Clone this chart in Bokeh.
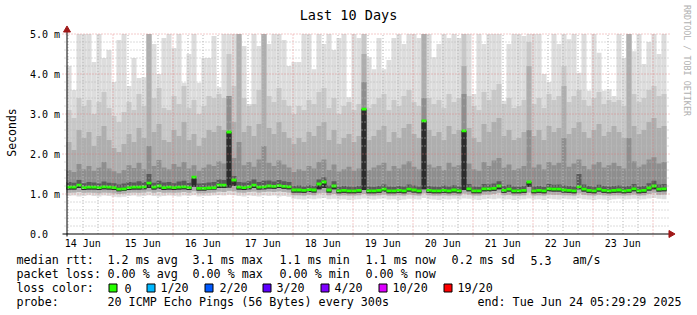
import numpy as np
from bokeh.plotting import figure
from bokeh.models import Range1d, Label
from bokeh.embed import file_html
from bokeh.resources import INLINE

# ---------------- data ----------------
title_text = "Last 10 Days"
day_labels = ["14 Jun", "15 Jun", "16 Jun", "17 Jun", "18 Jun",
              "19 Jun", "20 Jun", "21 Jun", "22 Jun", "23 Jun"]
y_tick_values = [0, 1, 2, 3, 4, 5]
y_tick_labels = ["0.0", "1.0 m", "2.0 m", "3.0 m", "4.0 m", "5.0 m"]
start_hour = 5.5      # 14 Jun 05:29 (hours since 14 Jun 00:00)
bucket_hours = 2.0

# median round-trip time per bucket (ms)
rtt_median = [
    1.17, 1.17, 1.22, 1.16, 1.17, 1.17, 1.16, 1.18, 1.17, 1.16,
    1.12, 1.13, 1.16, 1.17, 1.17, 1.18, 1.27, 1.17, 1.20, 1.16,
    1.17, 1.16, 1.17, 1.18, 1.16, 1.42, 1.14, 1.14, 1.15, 1.16,
    1.22, 1.22, 2.55, 1.35, 1.17, 1.16, 1.18, 1.22, 1.17, 1.18,
    1.20, 1.19, 1.21, 1.19, 1.18, 1.10, 1.10, 1.09, 1.11, 1.10,
    1.25, 1.30, 1.10, 1.20, 1.08, 1.09, 1.08, 1.08, 1.09, 3.12,
    1.08, 1.08, 1.09, 1.12, 1.08, 1.08, 1.09, 1.08, 1.12, 1.10,
    1.08, 2.83, 1.09, 1.08, 1.08, 1.09, 1.08, 1.10, 1.08, 2.58,
    1.13, 1.08, 1.08, 1.13, 1.13, 1.14, 1.20, 1.09, 1.12, 1.08,
    1.08, 1.09, 1.30, 1.08, 1.09, 1.08, 1.13, 1.12, 1.12, 1.10,
    1.09, 1.08, 1.18, 1.12, 1.09, 1.08, 1.12, 1.09, 1.08, 1.09,
    1.10, 1.08, 1.09, 1.13, 1.08, 1.09, 1.15, 1.20, 1.12, 1.13,
]
# highest ping per bucket (clipped at the 5 ms top of the graph)
rtt_max = [
    4.20, 3.60, 5.00, 5.00, 5.00, 4.30, 5.00, 4.40, 4.60, 3.80,
    4.85, 5.00, 3.70, 4.40, 3.90, 3.92, 5.00, 4.75, 4.00, 4.90,
    5.00, 4.65, 5.00, 3.78, 4.50, 5.00, 3.78, 4.40, 4.40, 4.95,
    3.67, 5.00, 5.00, 5.00, 4.90, 4.70, 3.25, 5.00, 4.70, 5.00,
    4.75, 5.00, 5.00, 4.85, 4.20, 4.30, 4.30, 5.00, 5.00, 4.12,
    5.00, 4.75, 5.00, 4.60, 4.90, 5.00, 3.42, 5.00, 4.90, 5.00,
    4.42, 4.12, 4.90, 4.12, 4.35, 4.90, 5.00, 4.75, 5.00, 5.00,
    4.90, 5.00, 5.00, 4.42, 4.75, 5.00, 4.90, 5.00, 4.90, 5.00,
    5.00, 3.50, 5.00, 4.75, 5.00, 5.00, 5.00, 3.33, 4.75, 5.00,
    5.00, 4.95, 5.00, 5.00, 5.00, 4.00, 3.80, 5.00, 4.75, 5.00,
    4.87, 5.00, 4.03, 5.00, 3.58, 5.00, 4.53, 3.58, 3.62, 3.45,
    5.00, 4.40, 5.00, 4.57, 5.00, 4.25, 4.80, 5.00, 4.50, 5.00,
]
rtt_hi2 = [
    3.10, 2.90, 3.40, 3.20, 3.35, 3.00, 3.30, 3.55, 3.15, 2.95,
    2.80, 3.05, 3.30, 3.10, 3.50, 3.20, 5.00, 3.40, 3.65, 3.15,
    3.10, 3.45, 3.25, 3.70, 3.15, 3.35, 3.00, 3.20, 3.45, 3.40,
    3.50, 3.40, 4.50, 3.70, 5.00, 3.40, 3.20, 3.25, 3.60, 5.00,
    3.45, 3.30, 3.65, 3.35, 3.20, 3.00, 3.20, 3.10, 3.35, 3.25,
    3.55, 3.65, 3.15, 3.40, 3.00, 3.20, 3.30, 3.10, 3.25, 5.00,
    3.15, 3.25, 3.40, 3.50, 3.10, 3.35, 3.20, 3.45, 3.60, 3.30,
    3.20, 5.00, 3.40, 3.25, 3.35, 3.15, 3.50, 3.30, 3.40, 5.00,
    3.45, 3.20, 3.10, 3.55, 3.35, 3.60, 3.75, 3.25, 3.40, 3.15,
    3.20, 3.35, 4.80, 3.25, 3.40, 3.15, 3.50, 3.35, 3.45, 4.20,
    3.30, 3.45, 3.60, 3.35, 3.20, 3.40, 3.55, 3.25, 3.35, 3.30,
    3.35, 3.20, 5.00, 3.50, 3.30, 3.40, 3.60, 3.70, 3.45, 3.50,
]
rtt_hi3 = [
    2.30, 2.10, 2.60, 2.40, 2.55, 2.20, 2.45, 2.70, 2.35, 2.15,
    2.05, 2.25, 2.50, 2.30, 2.65, 2.40, 5.00, 2.55, 2.75, 2.35,
    2.30, 2.60, 2.45, 2.80, 2.35, 2.50, 2.20, 2.40, 2.60, 2.55,
    2.70, 2.60, 3.45, 2.80, 5.00, 2.55, 2.70, 2.45, 2.75, 5.00,
    2.65, 2.50, 2.80, 2.55, 2.40, 2.25, 2.40, 2.30, 2.55, 2.45,
    2.70, 2.80, 2.35, 2.60, 2.25, 2.40, 2.50, 2.30, 2.45, 4.50,
    2.35, 2.45, 2.60, 2.70, 2.30, 2.55, 2.40, 2.65, 2.75, 2.50,
    2.40, 5.00, 2.60, 2.45, 2.55, 2.35, 2.70, 2.50, 2.60, 4.20,
    2.65, 2.40, 2.30, 2.75, 2.55, 2.80, 2.90, 2.45, 2.60, 2.35,
    2.40, 2.55, 4.20, 2.45, 2.60, 2.35, 2.70, 2.55, 2.65, 3.70,
    2.50, 2.65, 2.80, 2.55, 2.40, 2.60, 2.75, 2.45, 2.55, 2.70,
    2.55, 2.40, 5.00, 2.70, 2.50, 2.60, 2.80, 2.90, 2.65, 2.70,
]
rtt_hi4 = [
    1.60, 1.55, 1.75, 1.62, 1.70, 1.58, 1.66, 1.80, 1.64, 1.57,
    1.52, 1.60, 1.72, 1.65, 1.78, 1.62, 2.20, 1.70, 1.85, 1.66,
    1.62, 1.75, 1.68, 1.80, 1.64, 1.72, 1.58, 1.66, 1.74, 1.70,
    1.82, 1.76, 3.45, 1.90, 2.30, 1.72, 1.80, 1.68, 1.86, 2.20,
    1.78, 1.70, 1.84, 1.74, 1.66, 1.55, 1.62, 1.58, 1.70, 1.64,
    1.80, 1.86, 1.60, 1.74, 1.56, 1.62, 1.68, 1.58, 1.64, 3.80,
    1.60, 1.66, 1.72, 1.78, 1.58, 1.70, 1.64, 1.74, 1.82, 1.68,
    1.62, 3.40, 1.74, 1.66, 1.70, 1.60, 1.78, 1.68, 1.72, 3.50,
    1.76, 1.62, 1.58, 1.80, 1.70, 1.84, 1.90, 1.66, 1.74, 1.60,
    1.64, 1.70, 2.60, 1.66, 1.74, 1.62, 1.80, 1.72, 1.78, 2.40,
    1.68, 1.76, 1.86, 1.70, 1.62, 1.74, 1.80, 1.66, 1.72, 1.78,
    1.70, 1.64, 2.40, 1.82, 1.68, 1.74, 1.86, 1.92, 1.76, 1.80,
]
rtt_hi5 = [
    1.30, 1.28, 1.35, 1.27, 1.30, 1.29, 1.26, 1.31, 1.28, 1.27,
    1.24, 1.26, 1.30, 1.29, 1.32, 1.30, 1.50, 1.28, 1.33, 1.29,
    1.30, 1.27, 1.31, 1.33, 1.28, 1.42, 1.26, 1.27, 1.29, 1.30,
    1.36, 1.35, 2.55, 1.45, 1.30, 1.29, 1.32, 1.36, 1.30, 1.33,
    1.34, 1.31, 1.35, 1.32, 1.30, 1.20, 1.21, 1.19, 1.22, 1.20,
    1.36, 1.42, 1.21, 1.32, 1.18, 1.20, 1.19, 1.18, 1.20, 3.12,
    1.19, 1.18, 1.20, 1.24, 1.19, 1.18, 1.20, 1.19, 1.24, 1.21,
    1.19, 2.83, 1.20, 1.19, 1.18, 1.21, 1.19, 1.22, 1.19, 2.58,
    1.25, 1.19, 1.18, 1.25, 1.24, 1.26, 1.32, 1.20, 1.23, 1.19,
    1.18, 1.20, 1.30, 1.19, 1.20, 1.18, 1.25, 1.23, 1.24, 1.21,
    1.20, 1.19, 1.50, 1.24, 1.20, 1.18, 1.23, 1.20, 1.19, 1.20,
    1.21, 1.19, 1.20, 1.25, 1.19, 1.20, 1.27, 1.33, 1.24, 1.25,
]
# lowest ping and lower quantiles per bucket (ms)
rtt_min = [
    0.95, 0.96, 0.94, 0.95, 0.97, 0.95, 0.94, 0.96, 0.95, 0.93,
    0.92, 0.93, 0.95, 0.96, 0.94, 0.95, 0.97, 0.95, 0.94, 0.95,
    0.96, 0.95, 0.94, 0.96, 0.95, 0.97, 0.94, 0.95, 0.95, 0.96,
    0.97, 0.96, 0.98, 0.97, 0.95, 0.94, 0.96, 0.95, 0.94, 0.96,
    0.95, 0.96, 0.94, 0.95, 0.93, 0.88, 0.87, 0.86, 0.88, 0.87,
    0.89, 0.90, 0.87, 0.88, 0.86, 0.87, 0.85, 0.86, 0.87, 0.89,
    0.87, 0.86, 0.88, 0.89, 0.86, 0.87, 0.85, 0.86, 0.88, 0.87,
    0.86, 0.90, 0.87, 0.86, 0.85, 0.87, 0.86, 0.88, 0.86, 0.89,
    0.88, 0.86, 0.85, 0.87, 0.88, 0.87, 0.89, 0.86, 0.87, 0.85,
    0.86, 0.87, 0.89, 0.86, 0.87, 0.85, 0.88, 0.87, 0.86, 0.88,
    0.87, 0.86, 0.89, 0.87, 0.86, 0.85, 0.87, 0.86, 0.85, 0.87,
    0.88, 0.86, 0.87, 0.88, 0.86, 0.87, 0.89, 0.90, 0.88, 0.87,
]
rtt_lo2 = [
    1.03, 1.04, 1.05, 1.03, 1.04, 1.03, 1.02, 1.04, 1.03, 1.02,
    1.00, 1.01, 1.03, 1.04, 1.03, 1.04, 1.06, 1.03, 1.05, 1.03,
    1.04, 1.03, 1.04, 1.05, 1.03, 1.07, 1.02, 1.02, 1.03, 1.04,
    1.06, 1.05, 1.08, 1.07, 1.04, 1.03, 1.05, 1.06, 1.04, 1.05,
    1.06, 1.05, 1.07, 1.05, 1.04, 0.97, 0.97, 0.96, 0.98, 0.97,
    1.02, 1.03, 0.97, 1.00, 0.96, 0.97, 0.96, 0.96, 0.97, 1.00,
    0.96, 0.96, 0.97, 0.99, 0.96, 0.96, 0.97, 0.96, 0.99, 0.97,
    0.96, 1.02, 0.97, 0.96, 0.96, 0.97, 0.96, 0.97, 0.96, 1.01,
    0.99, 0.96, 0.96, 0.99, 0.99, 1.00, 1.03, 0.97, 0.98, 0.96,
    0.96, 0.97, 1.04, 0.96, 0.97, 0.96, 0.99, 0.98, 0.98, 0.97,
    0.97, 0.96, 1.02, 0.98, 0.97, 0.96, 0.98, 0.97, 0.96, 0.97,
    0.97, 0.96, 0.97, 0.99, 0.96, 0.97, 1.00, 1.03, 0.98, 0.99,
]
rtt_lo3 = [
    1.11, 1.11, 1.15, 1.10, 1.11, 1.11, 1.10, 1.12, 1.11, 1.10,
    1.07, 1.08, 1.10, 1.11, 1.11, 1.12, 1.15, 1.11, 1.13, 1.10,
    1.11, 1.10, 1.11, 1.12, 1.10, 1.18, 1.09, 1.09, 1.10, 1.11,
    1.15, 1.15, 1.16, 1.20, 1.11, 1.10, 1.12, 1.15, 1.11, 1.12,
    1.14, 1.13, 1.15, 1.13, 1.12, 1.04, 1.04, 1.03, 1.05, 1.04,
    1.12, 1.15, 1.04, 1.12, 1.02, 1.03, 1.02, 1.02, 1.03, 1.10,
    1.02, 1.02, 1.03, 1.06, 1.02, 1.02, 1.03, 1.02, 1.06, 1.04,
    1.02, 1.12, 1.03, 1.02, 1.02, 1.03, 1.02, 1.04, 1.02, 1.10,
    1.07, 1.02, 1.02, 1.07, 1.07, 1.08, 1.12, 1.03, 1.06, 1.02,
    1.02, 1.03, 1.18, 1.02, 1.03, 1.02, 1.07, 1.06, 1.06, 1.04,
    1.03, 1.02, 1.12, 1.06, 1.03, 1.02, 1.06, 1.03, 1.02, 1.03,
    1.04, 1.02, 1.03, 1.07, 1.02, 1.03, 1.09, 1.12, 1.06, 1.07,
]

stats_rtt = ["1.2 ms avg", "3.1 ms max", "1.1 ms min", "1.1 ms now", "0.2 ms sd", "5.3", "am/s"]
stats_loss = ["0.00 % avg", "0.00 % max", "0.00 % min", "0.00 % now"]
loss_labels = ["0", "1/20", "2/20", "3/20", "4/20", "10/20", "19/20"]
loss_colors = ["#26ff00", "#00b8ff", "#0059ff", "#5e00ff", "#7e00ff", "#dd00ff", "#ff0000"]
probe_text = "20 ICMP Echo Pings (56 Bytes) every 300s"
end_text = "end: Tue Jun 24 05:29:29 2025"

# ---------------- layout helpers ----------------
W, H = 697, 315
PX0, PX_PER_H = 66.0, 2.5     # x pixel of start_hour, pixels per hour
PY0, PY_PER_MS = 233.5, 40.0  # y pixel of 0 ms, pixels per ms


def hx(px):
    return start_hour + (px - PX0) / PX_PER_H


def vy(py):
    return (PY0 - py) / PY_PER_MS


def px_of(h):
    return PX0 + (h - start_hour) * PX_PER_H


p = figure(width=W, height=H, x_range=Range1d(hx(0), hx(W)),
           y_range=Range1d(vy(H), vy(0)), output_backend="svg",
           toolbar_location=None, x_axis_type=None, y_axis_type=None,
           min_border=0)
p.outline_line_color = None
p.background_fill_color = "white"
p.border_fill_color = "white"

MONO = "DejaVu Sans Mono"

# ---------------- smoke ----------------
n = len(rtt_median)
left = start_hour + bucket_hours * np.arange(n)
right = left + bucket_hours
bands = [
    (rtt_min, rtt_max, "#dddddd"),
    (rtt_lo2, rtt_hi2, "#c8c8c8"),
    (rtt_lo2, rtt_hi3, "#aeaeae"),
    (rtt_lo3, rtt_hi4, "#8e8e8e"),
    (rtt_lo3, rtt_hi5, "#5a5a5a"),
    (rtt_lo3, rtt_median, "#2c2c2c"),
]
for b, t, c in bands:
    p.quad(left=left, right=right, bottom=b, top=t,
           fill_color=c, line_color=None)

# median bars
half = 1.4 / PY_PER_MS
med = np.array(rtt_median)
p.quad(left=left, right=right, bottom=med - half, top=med + half,
       fill_color=loss_colors[0], line_color=None)

# ---------------- grid ----------------
x_lo_minor, x_lo_major, x_hi = hx(64), hx(62), hx(669)
minor_v = [k * 0.2 for k in range(1, 26) if k % 5 != 0]
major_v = [k * 1.0 for k in range(1, 6)]
p.segment(x0=[x_lo_minor] * len(minor_v), x1=[x_hi] * len(minor_v),
          y0=minor_v, y1=minor_v, line_color="#b8b8b8", line_width=1,
          line_dash="1 2")
p.segment(x0=[x_lo_major] * len(major_v), x1=[x_hi] * len(major_v),
          y0=major_v, y1=major_v, line_color="#e07070", line_alpha=0.75,
          line_width=1, line_dash="1 2")

end_h = start_hour + bucket_hours * n
minor_h, major_h = [], []
for hh in range(6, int(end_h) + 1, 6):
    snapped = hx(np.floor(px_of(hh)) + 0.5)
    (major_h if hh % 24 == 0 else minor_h).append(snapped)
p.segment(x0=minor_h, x1=minor_h, y0=[0] * len(minor_h), y1=[5] * len(minor_h),
          line_color="#b8b8b8", line_width=1, line_dash="1 2")
p.segment(x0=major_h, x1=major_h, y0=[vy(236)] * len(major_h), y1=[5] * len(major_h),
          line_color="#e07070", line_alpha=0.75, line_width=1, line_dash="1 2")

# ---------------- axes ----------------
ax_x = hx(66.5)
p.segment(x0=[ax_x], x1=[ax_x], y0=[vy(236)], y1=[vy(30)], line_color="black", line_width=1)
p.segment(x0=[hx(62)], x1=[hx(669)], y0=[0], y1=[0], line_color="black", line_width=1)
p.scatter(x=[ax_x], y=[vy(29.5)], marker="triangle", size=7,
          fill_color="#a01818", line_color="#a01818")
p.scatter(x=[hx(670.5)], y=[0], marker="triangle", size=7, angle=-np.pi / 2,
          fill_color="#a01818", line_color="#a01818")

for v, lab in zip(y_tick_values, y_tick_labels):
    p.add_layout(Label(x=hx(29.5), y=v, text=lab, text_font=MONO,
                       text_font_size="10px", text_align="left",
                       text_baseline="middle", text_color="black"))
for k, lab in enumerate(day_labels):
    p.add_layout(Label(x=12 + 24 * k, y=vy(242.5), text=lab, text_font=MONO,
                       text_font_size="10px", text_align="center",
                       text_baseline="middle", text_color="black"))

# ---------------- titles ----------------
p.add_layout(Label(x=hx(348), y=vy(14), text=title_text, text_font=MONO,
                   text_font_size="13.5px", text_align="center",
                   text_baseline="middle", text_color="black"))
p.add_layout(Label(x=hx(11), y=vy(132), text="Seconds", text_font=MONO,
                   text_font_size="11.5px", text_align="center",
                   text_baseline="middle", angle=np.pi / 2, text_color="black"))
p.add_layout(Label(x=hx(686), y=vy(60), text="RRDTOOL / TOBI OETIKER",
                   text_font=MONO, text_font_size="8.4px", text_align="center",
                   text_baseline="middle", angle=-np.pi / 2, text_color="#b0b0b0"))

# ---------------- legend ----------------
FS = "11.7px"


def txt(px, py, s, align="left"):
    p.add_layout(Label(x=hx(px), y=vy(py), text=s, text_font=MONO,
                       text_font_size=FS, text_align=align,
                       text_baseline="middle", text_color="black"))


row_y = [259.5, 273.5, 287.5, 301.5]
txt(16, row_y[0], "median rtt:")
for px, s in zip([107, 192, 279, 365, 451, 530, 572], stats_rtt):
    txt(px, row_y[0], s)
txt(16, row_y[1], "packet loss:")
for px, s in zip([107, 192, 279, 365], stats_loss):
    txt(px, row_y[1], s)
txt(16, row_y[2], "loss color:")
sw_px = [108, 146, 204, 262, 320, 378, 443]
lab_px = [124, 160, 219, 276, 334, 392, 457]
p.quad(left=[hx(x + 0.5) for x in sw_px], right=[hx(x + 8.5) for x in sw_px],
       bottom=[vy(291.5)] * len(sw_px), top=[vy(283.5)] * len(sw_px),
       fill_color=loss_colors, line_color="black", line_width=1)
for px, s in zip(lab_px, loss_labels):
    txt(px, row_y[2], s)
txt(16, row_y[3], "probe:")
txt(107, row_y[3], probe_text)
txt(681, row_y[3], end_text, align="right")

open("out.html", "w").write(file_html(p, INLINE))
